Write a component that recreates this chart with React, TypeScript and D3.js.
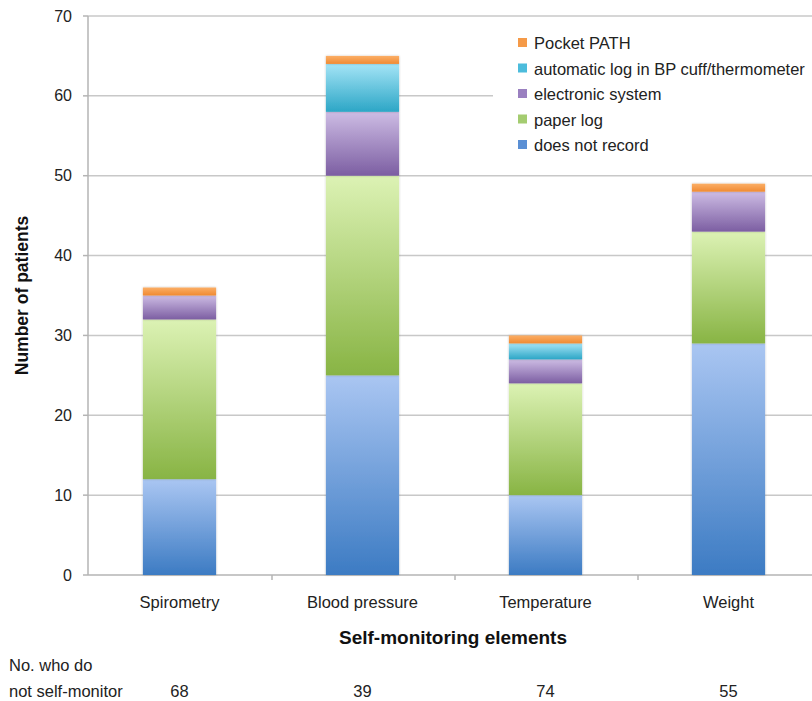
import React from "react";
import * as d3 from "d3";

const categories = ["Spirometry", "Blood pressure", "Temperature", "Weight"];
const seriesNames = [
  "does not record",
  "paper log",
  "electronic system",
  "automatic log in BP cuff/thermometer",
  "Pocket PATH",
];
const doesNotRecord = [12, 25, 10, 29];
const paperLog = [20, 25, 14, 14];
const electronicSystem = [3, 8, 3, 5];
const automaticLog = [0, 6, 2, 0];
const pocketPath = [1, 1, 1, 1];
const notSelfMonitor = [68, 39, 74, 55];
const yTicks = [0, 10, 20, 30, 40, 50, 60, 70];

const seriesValues = [doesNotRecord, paperLog, electronicSystem, automaticLog, pocketPath];
const gradStops: [string, string][] = [
  ["#aac6f2", "#3c7bc3"],
  ["#dcf2b4", "#88b444"],
  ["#cdbce4", "#7c5ea2"],
  ["#a4e4f6", "#2ca6c6"],
  ["#fbae66", "#f08a32"],
];
const legendColors = ["#5a8fd4", "#a4cc70", "#9a80c0", "#4cbcdc", "#f59a48"];

const W = 812;
const H = 701;
const left = 88;
const right = 820;
const top = 16;
const bottom = 575;
const font = "'Liberation Sans', Arial, sans-serif";

export default function App() {
  const x = d3.scaleBand<string>().domain(categories).range([left, right]).paddingInner(0.6).paddingOuter(0.3);
  const y = d3.scaleLinear().domain([0, 70]).range([bottom, top]);

  const rows = categories.map((c, i) => {
    const r: any = { cat: c };
    seriesNames.forEach((s, k) => (r[s] = seriesValues[k][i]));
    return r;
  });
  const stacked = d3.stack<any>().keys(seriesNames)(rows);
  const step = x.step();
  const bw = x.bandwidth();
  const boundary = (i: number) => (x(categories[i]) as number) + bw + (step - bw) / 2;

  return (
    <svg width={W} height={H} style={{ position: "absolute", left: 0, top: 0, background: "#fff" }}>
      <defs>
        {gradStops.map((g, k) => (
          <linearGradient key={k} id={`g${k}`} x1="0" y1="0" x2="0" y2="1">
            <stop offset="0%" stopColor={g[0]} />
            <stop offset="100%" stopColor={g[1]} />
          </linearGradient>
        ))}
        <filter id="sh" x="-10%" y="-10%" width="120%" height="120%">
          <feGaussianBlur in="SourceAlpha" stdDeviation="1.2" />
          <feComponentTransfer><feFuncA type="linear" slope="0.25" /></feComponentTransfer>
          <feMerge><feMergeNode /><feMergeNode in="SourceGraphic" /></feMerge>
        </filter>
      </defs>
      {/* gridlines */}
      {yTicks.slice(1).map((t) => (
        <line key={t} x1={left} x2={W} y1={y(t)} y2={y(t)} stroke="#c8c8c8" strokeWidth={1.5} />
      ))}
      {/* y axis */}
      <line x1={left} x2={left} y1={top} y2={bottom} stroke="#b4b4b4" strokeWidth={1.5} />
      {yTicks.map((t) => (
        <g key={t}>
          <line x1={left - 5} x2={left} y1={y(t)} y2={y(t)} stroke="#b4b4b4" strokeWidth={1.5} />
          <text x={72} y={y(t) + 5.5} textAnchor="end" fontFamily={font} fontSize={16} fill="#222">{t}</text>
        </g>
      ))}
      {/* x axis */}
      <line x1={left} x2={W} y1={bottom} y2={bottom} stroke="#b4b4b4" strokeWidth={1.5} />
      {categories.slice(0, -1).map((c, i) => (
        <line key={c} x1={boundary(i) + 1} x2={boundary(i) + 1} y1={bottom} y2={bottom + 5} stroke="#b4b4b4" strokeWidth={1.5} />
      ))}
      {/* bars */}
      {stacked.map((layer, k) => (
        <g key={layer.key} filter="url(#sh)">
          {layer.map((d, i) =>
            d[1] - d[0] > 0 ? (
              <rect key={i} x={x(categories[i])} width={bw} y={y(d[1])} height={y(d[0]) - y(d[1])} fill={`url(#g${k})`} />
            ) : null
          )}
        </g>
      ))}
      {/* legend */}
      <rect x={493} y={28} width={319} height={128} fill="#fff" />
      {seriesNames.slice().reverse().map((s, j) => {
        const k = seriesNames.length - 1 - j;
        const ly = 43 + j * 25.5;
        return (
          <g key={s}>
            <rect x={518} y={ly - 5} width={9} height={9} fill={legendColors[k]} />
            <text x={534} y={ly + 6} fontFamily={font} fontSize={16.5} fill="#222">{s}</text>
          </g>
        );
      })}
      {/* category labels */}
      {categories.map((c) => (
        <text key={c} x={(x(c) as number) + bw / 2} y={608} textAnchor="middle" fontFamily={font} fontSize={16.5} fill="#222">{c}</text>
      ))}
      <text x={453} y={644} textAnchor="middle" fontFamily={font} fontSize={19} fontWeight="bold" fill="#111">Self-monitoring elements</text>
      <text transform={`translate(28,${(top + bottom) / 2}) rotate(-90)`} textAnchor="middle" fontFamily={font} fontSize={17.5} fontWeight="bold" fill="#111">Number of patients</text>
      <text x={9} y={671} fontFamily={font} fontSize={16.5} fill="#222">No. who do</text>
      <text x={9} y={697} fontFamily={font} fontSize={16.5} fill="#222">not self-monitor</text>
      {categories.map((c, i) => (
        <text key={c} x={(x(c) as number) + bw / 2} y={697} textAnchor="middle" fontFamily={font} fontSize={16.5} fill="#222">{notSelfMonitor[i]}</text>
      ))}
    </svg>
  );
}
